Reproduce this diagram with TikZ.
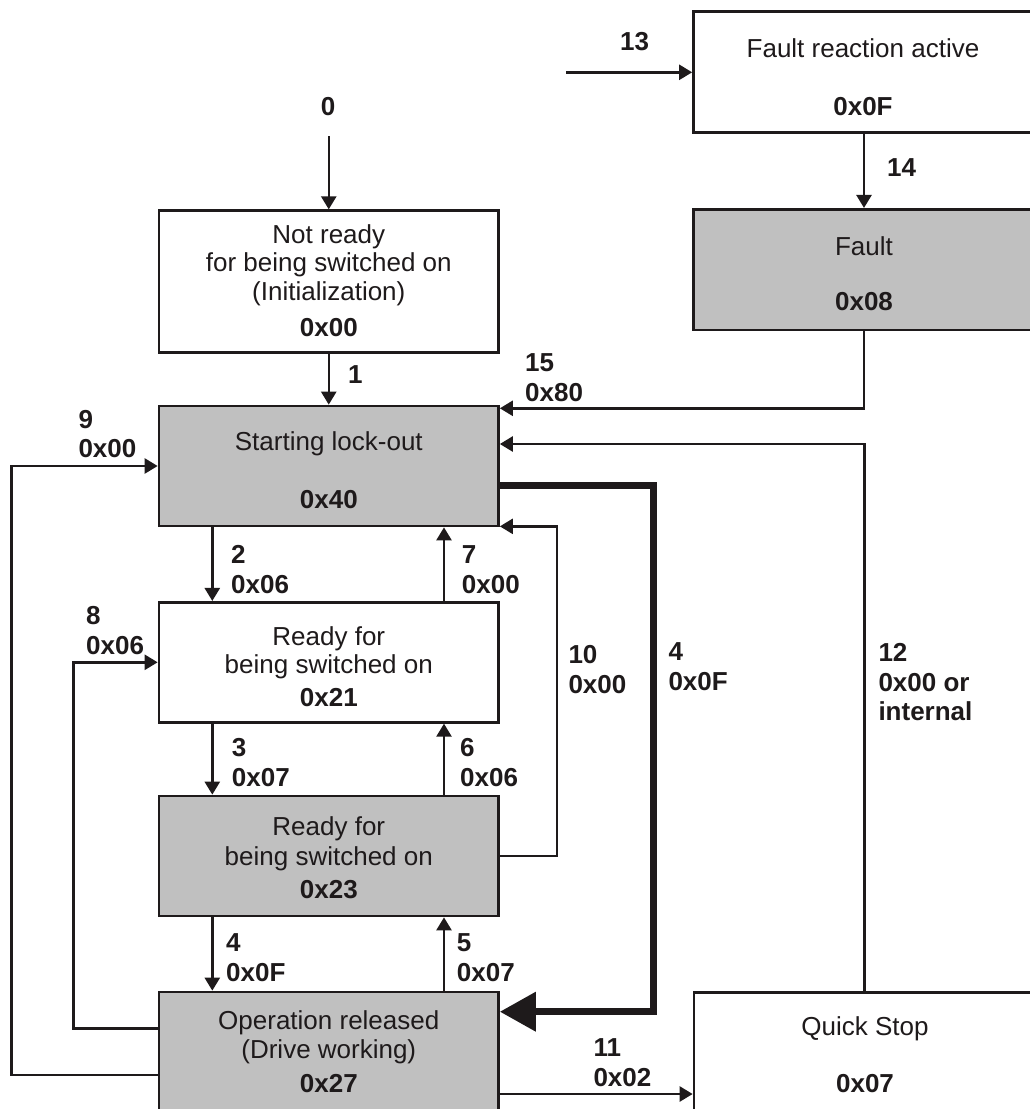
\documentclass[tikz,border=0pt]{standalone}
\usepackage{fontspec}
\setmainfont{Liberation Sans}
\usetikzlibrary{arrows.meta}
\definecolor{ink}{RGB}{30,26,27}
\definecolor{boxgray}{RGB}{192,192,192}
\newcommand\boxfnt{\fontsize{26}{30}\selectfont}
\newcommand\lblfnt{\fontsize{26}{30}\selectfont\bfseries}
\begin{document}
\begin{tikzpicture}[x=1pt,y=-1pt,
  stbox/.style={draw=ink, line width=2.7pt, rectangle, inner sep=0pt},
  whiteb/.style={stbox, fill=white},
  grayb/.style={stbox, fill=boxgray},
  conn/.style={draw=ink, line width=2.5pt, -{Triangle[length=13pt,width=15pt]}},
  thickconn/.style={draw=ink, line width=7pt, -{Triangle[length=36pt,width=38pt]}},
  lbl/.style={anchor=base west, inner sep=0pt, text=ink, font=\lblfnt},
  ctext/.style={anchor=base, inner sep=0pt, text=ink, font=\boxfnt},
  chex/.style={anchor=base, inner sep=0pt, text=ink, font=\lblfnt}]
\useasboundingbox (0,0) rectangle (1030,1109);
\clip (0,0) rectangle (1030,1109);
\fill[white] (0,0) rectangle (1030,1109);

% ---------- boxes ----------
\node[whiteb, minimum width=342.5pt, minimum height=120.6pt] (fra)   at (864.75,72) {};
\node[grayb,  minimum width=342.5pt, minimum height=120.7pt] (fault) at (864.75,269.65) {};
\node[whiteb, minimum width=339.5pt, minimum height=141.6pt] (nr)    at (328.75,281.5) {};
\node[grayb,  minimum width=339.5pt, minimum height=120pt]   (slo)   at (328.75,466) {};
\node[whiteb, minimum width=339.5pt, minimum height=120pt]   (rs)    at (328.75,662.3) {};
\node[grayb,  minimum width=339.5pt, minimum height=120pt]   (rs2)   at (328.75,856) {};
\node[grayb,  minimum width=339.5pt, minimum height=123pt]   (or)    at (328.75,1053.5) {};
\node[whiteb, minimum width=342pt,   minimum height=122.7pt] (qs)    at (865,1053.65) {};

% ---------- box texts ----------
\node[ctext] (fra1) at (863,57.3) {Fault reaction active};
\node[chex]  (fra2) at (863,115) {0x0F};
\node[ctext] (fau1) at (864,255) {Fault};
\node[chex]  (fau2) at (864,310.7) {0x08};
\node[ctext] (nr1) at (328.8,243.3) {Not ready};
\node[ctext] (nr2) at (328.8,271.7) {for being switched on};
\node[ctext] (nr3) at (328.8,300) {(Initialization)};
\node[chex]  (nr4) at (328.8,336.7) {0x00};
\node[ctext] (slo1) at (328.8,450) {Starting lock-out};
\node[chex]  (slo2) at (328.8,508.3) {0x40};
\node[ctext] (rs1) at (328.8,645) {Ready for};
\node[ctext] (rs2t) at (328.8,673.3) {being switched on};
\node[chex]  (rs3) at (328.8,706.7) {0x21};
\node[ctext] (rsb1) at (328.8,835) {Ready for};
\node[ctext] (rsb2) at (328.8,865) {being switched on};
\node[chex]  (rsb3) at (328.8,898.3) {0x23};
\node[ctext] (or1) at (328.8,1029.3) {Operation released};
\node[ctext] (or2) at (328.8,1058) {(Drive working)};
\node[chex]  (or3) at (328.8,1092.3) {0x27};
\node[ctext] (qs1) at (865,1035) {Quick Stop};
\node[chex]  (qs2) at (865,1092) {0x07};

% ---------- helper coordinates ----------
\coordinate (cl) at (212.3,0);
\coordinate (cr) at (444,0);
\coordinate (c8) at (73.3,800);
\coordinate (c9) at (11.7,800);
\coordinate (c10) at (557,700);
\coordinate (c4) at (653.5,700);
\coordinate (c12) at (864.5,0);
\coordinate (c14) at (864,0);
\coordinate (s0) at (328.75,136);
\coordinate (s13) at (566,72.3);
\coordinate (s11) at ([yshift=-40.5pt]or.east);

% ---------- connectors ----------
\draw[conn] (s0) -- (nr.north);
\draw[conn] (nr.south) -- (slo.north);
\draw[conn] (slo.south -| cl) -- (rs.north -| cl);
\draw[conn] (rs.north -| cr) -- (slo.south -| cr);
\draw[conn] (rs.south -| cl) -- (rs2.north -| cl);
\draw[conn] (rs2.north -| cr) -- (rs.south -| cr);
\draw[conn] (rs2.south -| cl) -- (or.north -| cl);
\draw[conn] (or.north -| cr) -- (rs2.south -| cr);
\draw[conn] ([yshift=25.2pt]or.west) -| (c8) |- (rs.west);
\draw[conn] ([yshift=-21.5pt]or.west) -| (c9) |- (slo.west);
\draw[conn] (rs2.east) -| (c10) |- ([yshift=1pt]slo.south east);
\draw[thickconn] ([yshift=-19.7pt]slo.east) -| (c4) |- ([yshift=41.8pt]or.east);
\draw[conn] (s11) -- (s11 -| qs.west);
\draw[conn] (qs.north -| c12) |- ([yshift=22pt]slo.east);
\draw[conn] (s13) -- (s13 -| fra.west);
\draw[conn] (fra.south -| c14) -- (fault.north -| c14);
\draw[conn] (fault.south -| c14) |- ([yshift=57.7pt]slo.east);

% ---------- connector labels ----------
\node[lbl] (l13) at (620,50.7) {13};
\node[lbl] (l14) at (887,176.7) {14};
\node[chex] (l0) at (328,115) {0};
\node[lbl] (l1) at (348,383.3) {1};
\node[lbl] (l15a) at (525,371.7) {15};
\node[lbl] (l15b) at (525,401.7) {0x80};
\node[lbl] (l9a) at (78.3,428.3) {9};
\node[lbl] (l9b) at (78.3,457.3) {0x00};
\node[lbl] (l2a) at (231,563.3) {2};
\node[lbl] (l2b) at (231,593.3) {0x06};
\node[lbl] (l7a) at (461.7,563) {7};
\node[lbl] (l7b) at (461.7,593) {0x00};
\node[lbl] (l8a) at (86,624.3) {8};
\node[lbl] (l8b) at (86,654) {0x06};
\node[lbl] (l10a) at (568.3,663.3) {10};
\node[lbl] (l10b) at (568.3,693.3) {0x00};
\node[lbl] (l4ra) at (668.3,660) {4};
\node[lbl] (l4rb) at (668.3,690) {0x0F};
\node[lbl] (l12a) at (878.3,661.7) {12};
\node[lbl] (l12b) at (878.3,691) {0x00 or};
\node[lbl] (l12c) at (878.3,720) {internal};
\node[lbl] (l3a) at (231.7,756) {3};
\node[lbl] (l3b) at (231.7,786.7) {0x07};
\node[lbl] (l6a) at (460,756) {6};
\node[lbl] (l6b) at (460,786.7) {0x06};
\node[lbl] (l4la) at (226,951.7) {4};
\node[lbl] (l4lb) at (226,981.7) {0x0F};
\node[lbl] (l5a) at (456.7,951.7) {5};
\node[lbl] (l5b) at (456.7,981.7) {0x07};
\node[lbl] (l11a) at (593.3,1056.7) {11};
\node[lbl] (l11b) at (593.3,1086.7) {0x02};
\end{tikzpicture}
\end{document}
